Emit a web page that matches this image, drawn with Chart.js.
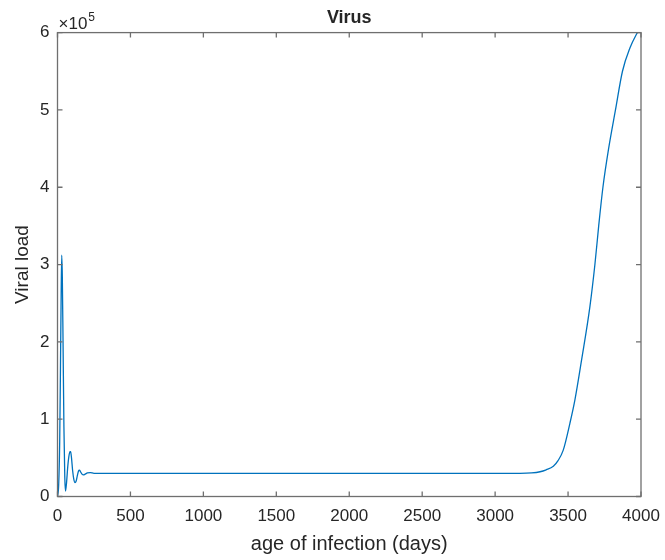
<!DOCTYPE html>
<html>
<head>
<meta charset="utf-8">
<script src="https://cdn.jsdelivr.net/npm/chart.js@4"></script>
<style>
  html, body { margin: 0; padding: 0; background: #ffffff; }
  #wrap { width: 665px; height: 560px; }
</style>
</head>
<body>
<div id="wrap"><canvas id="c" width="665" height="560"></canvas></div>
<script>
// ---- data ----
const chartTitle = "Virus";
const xLabel = "age of infection (days)";
const yLabel = "Viral load";
const xTicks = [0, 500, 1000, 1500, 2000, 2500, 3000, 3500, 4000];
const yTicks = [0, 100000, 200000, 300000, 400000, 500000, 600000];
const yExponent = 5;

const days = [0, 8, 15, 20, 25, 29, 33, 38, 44, 50, 55, 62, 70, 78, 86, 90, 96, 104, 112, 120, 128, 136, 144, 150, 158, 168, 178, 190, 205, 225, 250, 300, 500, 1000, 1500, 2000, 2500, 3000, 3170, 3250, 3308, 3350, 3399, 3430, 3467, 3513, 3547, 3593, 3650, 3684, 3710, 3739, 3778, 3825, 3873, 3924, 3975, 4000];
const viralLoad = [0, 15000, 70000, 160000, 260000, 312000, 285000, 200000, 90000, 25000, 7000, 18000, 38000, 52000, 58000, 58000, 50000, 33000, 22000, 18000, 20000, 27000, 33000, 34000, 32000, 29000, 28000, 29000, 30500, 31000, 30000, 30000, 30000, 30000, 30000, 30000, 30000, 30000, 30000, 30500, 32000, 34500, 39000, 46000, 60000, 95000, 125000, 177000, 246000, 300000, 350000, 400000, 450000, 500000, 550000, 580000, 600000, 608000];

const points = days.map((d, i) => ({ x: d, y: viralLoad[i] }));

const FONT = "'Liberation Sans', Arial, Helvetica, sans-serif";
const AXIS_COLOR = '#6f6f6f';
const TEXT_COLOR = '#262626';

const boxPlugin = {
  id: 'matlabBox',
  afterDatasetsDraw(chart) {
    const { ctx, chartArea: a, scales } = chart;
    ctx.save();
    ctx.strokeStyle = AXIS_COLOR;
    ctx.lineWidth = 1.3;
    ctx.strokeRect(a.left, a.top, a.right - a.left, a.bottom - a.top);
    const len = 5;
    ctx.beginPath();
    xTicks.forEach(v => {
      const px = scales.x.getPixelForValue(v);
      ctx.moveTo(px, a.bottom); ctx.lineTo(px, a.bottom - len);
      ctx.moveTo(px, a.top); ctx.lineTo(px, a.top + len);
    });
    yTicks.forEach(v => {
      const py = scales.y.getPixelForValue(v);
      ctx.moveTo(a.left, py); ctx.lineTo(a.left + len, py);
      ctx.moveTo(a.right, py); ctx.lineTo(a.right - len, py);
    });
    ctx.stroke();
    // exponent label
    ctx.fillStyle = TEXT_COLOR;
    ctx.textBaseline = 'alphabetic';
    ctx.textAlign = 'left';
    ctx.font = '17px ' + FONT;
    const x0 = a.left + 1;
    const base = a.top - 4;
    ctx.fillText('\u00d710', x0, base);
    const w = ctx.measureText('\u00d710').width;
    ctx.font = '12px ' + FONT;
    ctx.fillText(String(yExponent), x0 + w + 1, base - 8);
    ctx.restore();
  }
};

new Chart(document.getElementById('c'), {
  type: 'line',
  data: {
    datasets: [{
      data: points,
      borderColor: '#0072BD',
      borderWidth: 1.3,
      pointRadius: 0,
      fill: false,
      cubicInterpolationMode: 'monotone'
    }]
  },
  options: {
    responsive: false,
    animation: false,
    devicePixelRatio: 1,
    layout: { padding: { left: 0, right: 24, top: 0, bottom: 0 } },
    plugins: {
      legend: { display: false },
      tooltip: { enabled: false },
      title: {
        display: true,
        text: chartTitle,
        fullSize: false,
        color: TEXT_COLOR,
        font: { family: FONT, size: 18, weight: 'bold', lineHeight: 1.2 },
        padding: { top: 7, bottom: 4 }
      }
    },
    scales: {
      x: {
        type: 'linear',
        min: 0, max: 4000,
        afterBuildTicks(scale) { scale.ticks = xTicks.map(v => ({ value: v })); },
        afterFit(scale) { scale.height = 63.5; scale.paddingLeft = 0; scale.paddingRight = 0; },
        grid: { display: false, drawTicks: false },
        border: { display: false },
        ticks: {
          color: TEXT_COLOR,
          font: { family: FONT, size: 17 },
          padding: 10,
          maxRotation: 0,
          autoSkip: false,
          callback: v => String(v)
        },
        title: {
          display: true,
          text: xLabel,
          color: TEXT_COLOR,
          font: { family: FONT, size: 20, lineHeight: 1.2 },
          padding: { top: 0, bottom: 4 }
        }
      },
      y: {
        type: 'linear',
        min: 0, max: 600000,
        afterBuildTicks(scale) { scale.ticks = yTicks.map(v => ({ value: v })); },
        afterFit(scale) { scale.width = 57.5; scale.paddingTop = 0; scale.paddingBottom = 0; },
        grid: { display: false, drawTicks: false },
        border: { display: false },
        ticks: {
          color: TEXT_COLOR,
          font: { family: FONT, size: 17 },
          padding: 8,
          autoSkip: false,
          callback: v => String(v / Math.pow(10, yExponent))
        },
        title: {
          display: true,
          text: yLabel,
          color: TEXT_COLOR,
          font: { family: FONT, size: 19, lineHeight: 1.2 },
          padding: { top: 11, bottom: 0 }
        }
      }
    }
  },
  plugins: [boxPlugin]
});
</script>
</body>
</html>
